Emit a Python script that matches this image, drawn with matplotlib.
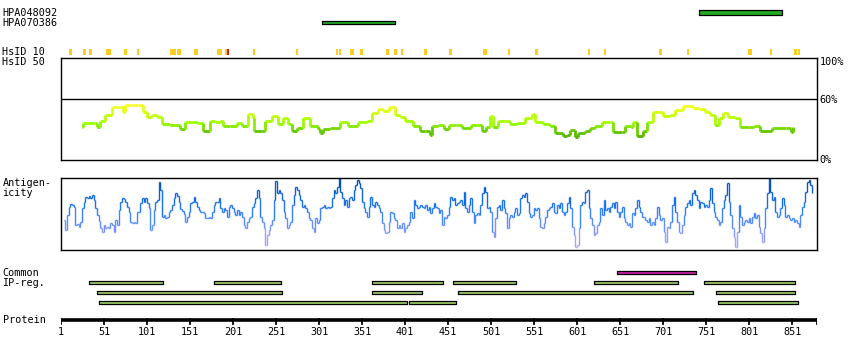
import numpy as np
import matplotlib
matplotlib.use('Agg')
import matplotlib.pyplot as plt
from matplotlib.collections import LineCollection
from matplotlib.colors import LinearSegmentedColormap, Normalize

W, H = 850, 360
PROT_LEN = 880
FONT = 'DejaVu Sans Mono'
FS = 7.3

# ── antibodies ───────────────────────────────────────────────────────────
hpa_names = ['HPA048092', 'HPA070386']
hpa_start = [743, 304]
hpa_end = [839, 389]

# ── HsID 10 hits (residue spans) ─────────────────────────────────────────
hsid10_start = [10, 27, 34, 53, 56, 74, 89, 128, 136, 156, 182, 192, 224, 274,
                321, 324, 337, 349, 379, 388, 396, 423, 452, 492, 520, 552, 613,
                632, 696, 728, 800, 825, 853, 857]
hsid10_end = [13, 29, 36, 55, 58, 77, 91, 134, 139, 159, 187, 194, 226, 276,
              322, 326, 341, 351, 381, 390, 397, 426, 454, 495, 522, 554, 615,
              633, 698, 730, 803, 826, 855, 859]
hsid10_red_start = [194]
hsid10_red_end = [196]

# ── HsID 50 (% identity) ─────────────────────────────────────────────────
hsid50_res = [25, 27, 40, 43, 46, 52, 60, 67, 73, 75, 84, 90, 96, 101, 107, 113,
              118, 128, 139, 145, 159, 166, 174, 180, 186, 189, 197, 206, 211,
              218, 224, 225, 235, 238, 246, 253, 259, 265, 270, 275, 282, 290,
              300, 302, 306, 314, 325, 335, 346, 357, 363, 370, 375, 382, 389,
              395, 401, 410, 418, 424, 430, 432, 439, 446, 452, 460, 467, 478,
              485, 490, 495, 500, 503, 509, 517, 523, 531, 540, 548, 552, 561,
              569, 575, 584, 589, 593, 598, 602, 610, 616, 622, 630, 639, 643,
              653, 657, 663, 666, 670, 677, 682, 689, 695, 701, 709, 715, 724,
              735, 742, 749, 755, 761, 766, 770, 776, 784, 790, 801, 807, 813,
              827, 844, 850, 852]
hsid50_val = [33, 37, 37, 33, 39, 44, 52, 52, 47, 54, 54, 54, 47, 42, 44, 42,
              36, 35, 31, 38, 37, 29, 39, 38, 39, 34, 34, 37, 34, 45, 41, 29,
              29, 39, 43, 36, 41, 36, 29, 32, 41, 34, 31, 27, 31, 32, 38, 34,
              38, 39, 46, 50, 48, 52, 44, 42, 39, 34, 29, 29, 25, 34, 35, 31,
              35, 35, 32, 35, 35, 29, 33, 43, 33, 39, 39, 36, 37, 41, 45, 38,
              36, 34, 27, 24, 25, 30, 23, 27, 29, 32, 34, 38, 38, 28, 28, 34,
              33, 38, 24, 29, 38, 47, 47, 43, 44, 49, 53, 51, 50, 47, 44, 35,
              41, 46, 42, 41, 33, 33, 34, 29, 32, 32, 28, 33]

# ── Antigenicity (sampled evenly from residue 4 to 874) ──────────────────
antigen_first, antigen_last = 4, 874
antigen_val = [
    90, 60, 105, 130, 137, 135, 130, 75, 77, 70, 85, 125, 145, 160, 155, 163,
    157, 165, 150, 125, 105, 87, 65, 53, 75, 65, 70, 65, 80, 75, 55, 90, 75,
    120, 145, 155, 153, 145, 130, 115, 85, 80, 85, 80, 115, 115, 140, 155, 145,
    157, 140, 125, 60, 75, 120, 145, 150, 203, 180, 100, 105, 95, 100, 115, 120,
    135, 155, 170, 163, 145, 123, 117, 107, 85, 100, 115, 140, 145, 160, 145,
    130, 120, 115, 115, 110, 95, 95, 100, 95, 115, 135, 145, 145, 155, 125, 115,
    125, 120, 100, 130, 135, 125, 115, 105, 120, 105, 115, 100, 75, 65, 85, 95,
    100,
    130, 140, 155, 180, 155, 100, 85, 65, 15, 45, 60, 75, 90, 150, 207, 170,
    180, 170, 150, 115, 95, 65, 75, 85, 135, 165, 190, 180, 165, 150, 130, 135,
    125, 115, 95, 90, 65, 55, 95, 80, 90, 125, 130, 135, 125, 130, 125, 130,
    155, 180, 170, 190, 215, 175, 155, 135, 150, 130, 155, 160, 150, 180, 195,
    210, 200, 185, 145, 125, 115, 100, 130, 160, 135, 130, 145, 135, 125, 115,
    80, 60, 50, 55, 85, 115, 110, 95, 90, 65, 75, 65, 80, 55, 65, 75, 85, 115,
    95, 150, 135, 125, 130, 135, 130, 125, 135, 120, 130, 110, 125, 140, 130,
    125, 110, 120,
    75, 100, 95, 105, 130, 160, 150, 155, 135, 140, 145, 150, 135, 175, 125,
    115, 135, 155, 115, 80, 105, 110, 105, 135, 170, 190, 175, 125, 130, 115,
    55, 40, 95, 130, 135, 120, 150, 125, 110, 65, 95, 105, 100, 115, 125, 105,
    110, 155, 165, 160, 170, 145, 110, 100, 105, 125, 120, 125, 95, 70, 65, 80,
    100, 120, 125, 130, 140, 115, 110, 135, 125, 140, 115, 105, 115, 140, 160,
    125, 70, 45, 10, 15, 65, 135, 145, 140, 175, 180, 125, 95, 75, 45, 50, 75,
    85, 125, 105, 150, 120, 125, 115, 130, 140, 125, 145, 115, 100, 115, 130,
    95, 85, 75, 80, 70,
    110, 105, 125, 150, 130, 115, 100, 100, 90, 85, 95, 75, 85, 75, 95, 130,
    105, 90, 95, 55, 25, 70, 65, 85, 135, 160, 115, 85, 55, 50, 75, 105, 130,
    140, 150, 135, 170, 180, 165, 150, 125, 145, 140, 130, 135, 130, 150, 185,
    140, 115, 100, 90, 75, 85, 125, 150, 165, 200, 145, 105, 65, 40, 10, 55,
    135, 100, 75, 85, 90, 85, 95, 80, 100, 110, 95, 105, 70, 50, 25, 65, 125,
    170, 215, 175, 150, 160, 115, 100, 105, 125, 155, 135, 100, 105, 95, 90, 95,
    85, 90, 80, 70, 105, 130, 145, 175, 205, 210, 195, 170,
]

# ── Common IP regions (3 rows + 1 highlighted) ───────────────────────────
ip_row1 = [(34, 120), (179, 257), (363, 445), (457, 530), (620, 718), (748, 854)]
ip_row2 = [(43, 258), (363, 421), (462, 736), (762, 854)]
ip_row3 = [(45, 403), (405, 460), (765, 858)]
ip_hilite = [(647, 739)]

tick_res = list(range(1, 852, 50))

# ── colours ──────────────────────────────────────────────────────────────
HPA_GREEN = '#22aa22'
IP_GREEN = '#99cc66'
MAGENTA = '#cc22aa'
GOLD = '#ffcc22'
RED = '#dd1111'
id_cmap = LinearSegmentedColormap.from_list(
    'id', [(0, '#55aa00'), (0.25, '#66cc00'), (0.45, '#99ff00'),
           (0.7, '#ccff00'), (1, '#ffff33')])
ag_cmap = LinearSegmentedColormap.from_list(
    'ag', [(0, '#b8b0ff'), (0.25, '#8899ff'), (0.45, '#4488ff'),
           (0.65, '#1670f0'), (0.85, '#0a5cd0'), (1, '#004499')])


def fx(px):
    return px / W


def fy(py):
    return 1 - py / H


def step_segments(x, y):
    segs, vals = [], []
    for i in range(len(x) - 1):
        segs.append([(x[i], y[i]), (x[i + 1], y[i])])
        vals.append(y[i])
        segs.append([(x[i + 1], y[i]), (x[i + 1], y[i + 1])])
        vals.append((y[i] + y[i + 1]) / 2)
    return segs, vals


fig = plt.figure(figsize=(W / 100, H / 100), dpi=100, facecolor='white')
AX_L, AX_R = 60.5, 817.3

# track axes: x in residues, y in pixel rows
tr = fig.add_axes([fx(AX_L), 0, fx(AX_R - AX_L), 1])
tr.set_xlim(0.5, PROT_LEN)
tr.set_ylim(H, 0)
tr.axis('off')

# antibodies
hpa_rows = [(10.3, 4.4), (20.7, 3.6)]
for s, e, (y0, hgt) in zip(hpa_start, hpa_end, hpa_rows):
    tr.broken_barh([(s, e - s)], (y0, hgt), facecolor=HPA_GREEN,
                   edgecolor='black', linewidth=0.9)

# HsID 10
tr.broken_barh([(s, e - s + 1) for s, e in zip(hsid10_start, hsid10_end)],
               (49, 6), facecolor=GOLD, edgecolor='none')
tr.broken_barh([(s, e - s) for s, e in zip(hsid10_red_start, hsid10_red_end)],
               (49, 6), facecolor=RED, edgecolor='none')

# IP regions
for spans, y0, col in [(ip_hilite, 270.5, MAGENTA), (ip_row1, 280.8, IP_GREEN),
                       (ip_row2, 290.8, IP_GREEN), (ip_row3, 300.8, IP_GREEN)]:
    tr.broken_barh([(s, e - s) for s, e in spans], (y0, 3.5), facecolor=col,
                   edgecolor='black', linewidth=0.9)

# protein axis
tr.plot([1, PROT_LEN], [320, 320], color='black', lw=2.6, solid_capstyle='butt')
for t in tick_res + [PROT_LEN]:
    tr.plot([t, t], [318.5, 323.5], color='black', lw=1.3)
for t in tick_res:
    tr.text(t, 331.7, str(t), ha='center', va='center', fontsize=FS,
            family=FONT)

# HsID 50 panel
ax1 = fig.add_axes([fx(AX_L), fy(160.3), fx(AX_R - AX_L), (160.3 - 58.3) / H])
ax1.set_xlim(0.5, PROT_LEN)
ax1.set_ylim(0, 100)
ax1.axhline(60, color='black', lw=1.0)
segs, vals = step_segments(hsid50_res, hsid50_val)
lc = LineCollection(segs, cmap=id_cmap, norm=Normalize(22, 55), lw=2.0,
                    capstyle='butt')
lc.set_array(np.array(vals))
ax1.add_collection(lc)
ax1.set_xticks([])
ax1.set_yticks([])
for sp in ax1.spines.values():
    sp.set_linewidth(1.0)

# antigenicity panel
ax2 = fig.add_axes([fx(AX_L), fy(250), fx(AX_R - AX_L), (250 - 178.3) / H])
ax2.set_xlim(0.5, PROT_LEN)
ax2.set_ylim(0, 215)
ag_x = np.linspace(antigen_first, antigen_last, len(antigen_val))
segs, vals = step_segments(list(ag_x), antigen_val)
lc2 = LineCollection(segs, cmap=ag_cmap, norm=Normalize(0, 215), lw=1.0)
lc2.set_array(np.array(vals))
ax2.add_collection(lc2)
ax2.set_xticks([])
ax2.set_yticks([])
for sp in ax2.spines.values():
    sp.set_linewidth(1.0)

# labels
left_labels = [('HPA048092', 12.5), ('HPA070386', 22.5), ('HsID 10', 52.3),
               ('HsID 50', 62.3), ('Antigen-', 183.3), ('icity', 193.3),
               ('Common', 272.7), ('IP-reg.', 283), ('Protein', 320)]
for txt, y in left_labels:
    fig.text(fx(2.5), fy(y), txt, ha='left', va='center', fontsize=FS,
             family=FONT)
for txt, y in [('100%', 62.3), ('60%', 100), ('0%', 160.3)]:
    fig.text(fx(819.5), fy(y), txt, ha='left', va='center', fontsize=FS,
             family=FONT)

fig.savefig('out.png', dpi=100, facecolor='white')
